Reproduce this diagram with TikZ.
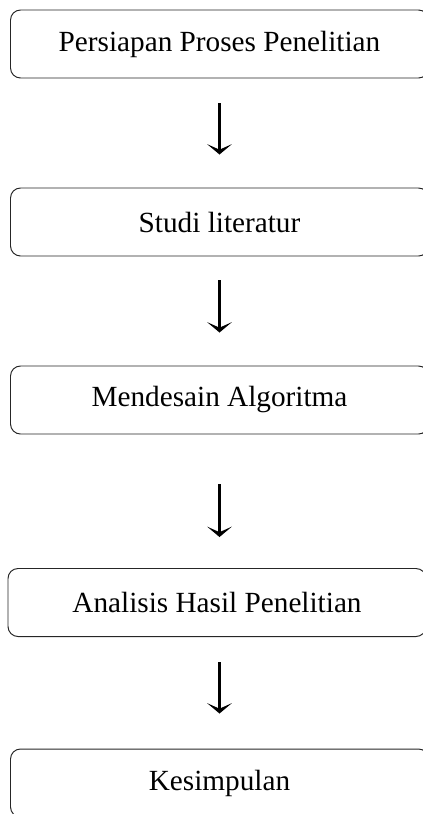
\documentclass[tikz,border=0pt]{standalone}
\usepackage{fontspec}
\setmainfont{Liberation Serif}
\usetikzlibrary{arrows.meta}
\begin{document}
\begin{tikzpicture}[
  stage/.style={draw=black!85, line width=0.7pt, rounded corners=0.25cm,
    minimum width=10.45cm, minimum height=1.7cm,
    font=\fontsize{20.8}{24}\selectfont},
  flow/.style={line width=1.5pt,
    -{Stealth[length=2.6mm,width=6.2mm,inset=1.4mm]}}]
\useasboundingbox (0,0) rectangle (10.575,-20.35);
\node[stage] (prep) at (5.4875,-1.1) {Persiapan Proses Penelitian};
\node[stage] (studi) at (5.4875,-5.55) {Studi literatur};
\node[stage] (desain) at (5.4875,-10.0) {Mendesain Algoritma};
\node[stage] (analisis) at (5.425,-15.0625) {Analisis Hasil Penelitian};
\node[stage] (simpul) at (5.4875,-19.575) {Kesimpulan};
  \draw[flow, shorten <=0.625cm, shorten >=0.825cm] (prep.south) -- (studi.north);
  \draw[flow, shorten <=0.6cm, shorten >=0.825cm] (studi.south) -- (desain.north);
  \draw[flow, shorten <=1.25cm, shorten >=0.775cm] (desain.south) -- (analisis.north -| desain.south);
  \draw[flow, shorten <=0.625cm, shorten >=0.875cm] (analisis.south -| simpul.north) -- (simpul.north);
\end{tikzpicture}
\end{document}
